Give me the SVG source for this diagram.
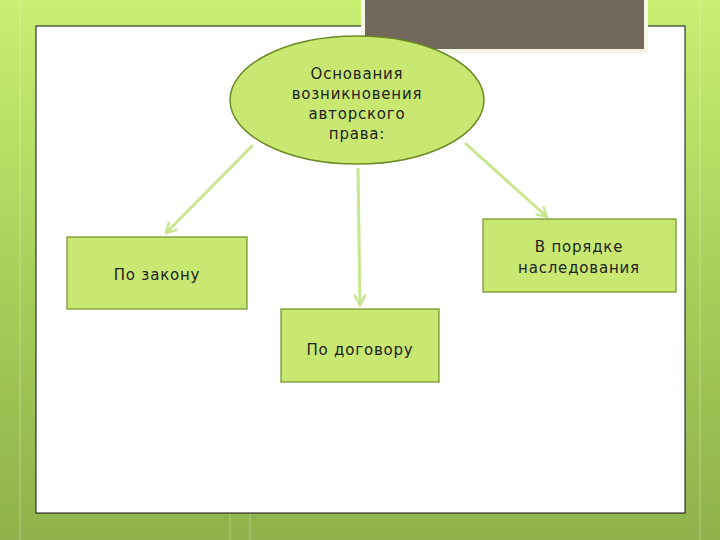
<svg xmlns="http://www.w3.org/2000/svg" width="720" height="540" viewBox="0 0 720 540">
<defs>
<linearGradient id="bg" x1="0" y1="0" x2="0" y2="1">
<stop offset="0" stop-color="#c8ef72"/>
<stop offset="0.5" stop-color="#a9d05a"/>
<stop offset="1" stop-color="#8fb24c"/>
</linearGradient>
<marker id="arr" viewBox="0 0 12 12" refX="10" refY="6" markerWidth="4.5" markerHeight="4.5" orient="auto" markerUnits="strokeWidth">
<polyline points="1,1 10,6 1,11" fill="none" stroke="#c8e68e" stroke-width="2.2"/>
</marker>
<style>
.box{fill:#c9e872;stroke:#6f8f28;stroke-width:1.2}
.t{font-family:"DejaVu Sans","Noto Sans",sans-serif;font-size:15px;fill:#222222;text-anchor:middle;letter-spacing:0.8px}
.c{stroke:#c8e68e;stroke-width:3;fill:none;marker-end:url(#arr)}
</style>
</defs>
<rect width="720" height="540" fill="url(#bg)"/>
<g opacity="0.15" stroke="#ffffff" stroke-width="2">
<line x1="20" y1="0" x2="20" y2="540"/>
<line x1="700" y1="0" x2="700" y2="540"/>
<line x1="230" y1="513" x2="230" y2="540"/>
<line x1="250" y1="513" x2="250" y2="540"/>
</g>
<rect x="36" y="26" width="649" height="487" fill="#ffffff" stroke="#111111" stroke-width="1"/>
<rect x="363" y="-2" width="283" height="53" fill="#71685a" stroke="#f5f5e6" stroke-width="4"/>
<g id="connectors">
<line class="c" x1="253" y1="145" x2="166" y2="233"/>
<line class="c" x1="358" y1="168" x2="360" y2="305"/>
<line class="c" x1="465" y1="143" x2="547" y2="217"/>
</g>
<g id="node-root">
<ellipse cx="357" cy="100" rx="127" ry="64" fill="#c9e872" stroke="#6b8a24" stroke-width="1.5"/>
<text class="t" x="357" y="79">Основания</text>
<text class="t" x="357" y="99">возникновения</text>
<text class="t" x="357" y="119">авторского</text>
<text class="t" x="357" y="139">права:</text>
</g>
<g id="node-law">
<rect class="box" x="67" y="237" width="180" height="72"/>
<text class="t" x="157" y="280">По закону</text>
</g>
<g id="node-contract">
<rect class="box" x="281" y="309" width="158" height="73"/>
<text class="t" x="360" y="355">По договору</text>
</g>
<g id="node-inherit">
<rect class="box" x="483" y="219" width="193" height="73"/>
<text class="t" x="579" y="252">В порядке</text>
<text class="t" x="579" y="273">наследования</text>
</g>
</svg>
